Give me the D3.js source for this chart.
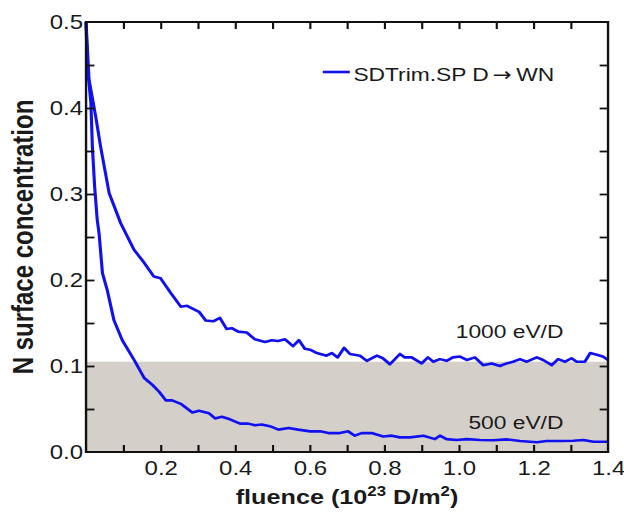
<!DOCTYPE html>
<html>
<head>
<meta charset="utf-8">
<script src="https://cdn.jsdelivr.net/npm/d3@7"></script>
<style>
  html, body { margin: 0; padding: 0; background: #fff; }
  svg { display: block; }
  text { font-family: "Liberation Sans", Arial, Helvetica, sans-serif; fill: #1a1a1a; }
</style>
</head>
<body>
<div id="chart"></div>
<script>
// --- Data ---
// [fluence (1e23 D/m^2), N surface concentration]
const series1000 = [
  [0, 0.5], [0.008, 0.433], [0.026, 0.39], [0.039, 0.355], [0.062, 0.301], [0.093, 0.266],
  [0.129, 0.235], [0.156, 0.22], [0.164, 0.215], [0.182, 0.204], [0.2, 0.202], [0.227, 0.185],
  [0.254, 0.169], [0.271, 0.17], [0.303, 0.163], [0.321, 0.153], [0.341, 0.152], [0.359, 0.156],
  [0.377, 0.143], [0.391, 0.144], [0.408, 0.14], [0.431, 0.139], [0.453, 0.131], [0.48, 0.128],
  [0.498, 0.13], [0.515, 0.129], [0.534, 0.131], [0.555, 0.123], [0.571, 0.13], [0.587, 0.12],
  [0.601, 0.119], [0.619, 0.115], [0.645, 0.112], [0.659, 0.115], [0.675, 0.11], [0.692, 0.121],
  [0.708, 0.114], [0.735, 0.112], [0.753, 0.106], [0.78, 0.112], [0.796, 0.109], [0.815, 0.102],
  [0.842, 0.114], [0.855, 0.11], [0.873, 0.11], [0.9, 0.103], [0.917, 0.11], [0.931, 0.105],
  [0.949, 0.108], [0.967, 0.106], [0.984, 0.11], [1.003, 0.111], [1.021, 0.107], [1.043, 0.11],
  [1.065, 0.101], [1.088, 0.103], [1.11, 0.1], [1.128, 0.103], [1.145, 0.105], [1.164, 0.108],
  [1.182, 0.105], [1.209, 0.11], [1.226, 0.107], [1.249, 0.101], [1.266, 0.108], [1.285, 0.105],
  [1.302, 0.109], [1.316, 0.105], [1.338, 0.105], [1.352, 0.115], [1.37, 0.113], [1.386, 0.111],
  [1.4, 0.107]
];

const series500 = [
  [0, 0.5], [0.003, 0.452], [0.013, 0.406], [0.017, 0.355], [0.023, 0.309], [0.03, 0.27],
  [0.035, 0.254], [0.044, 0.208], [0.057, 0.188], [0.075, 0.153], [0.097, 0.13], [0.129, 0.107],
  [0.156, 0.086], [0.178, 0.078], [0.196, 0.07], [0.214, 0.06], [0.231, 0.06], [0.254, 0.056],
  [0.285, 0.046], [0.303, 0.048], [0.33, 0.045], [0.346, 0.039], [0.364, 0.041], [0.386, 0.038],
  [0.413, 0.033], [0.435, 0.033], [0.453, 0.031], [0.471, 0.032], [0.493, 0.03], [0.516, 0.026],
  [0.543, 0.028], [0.569, 0.026], [0.601, 0.024], [0.628, 0.024], [0.65, 0.022], [0.681, 0.022],
  [0.703, 0.024], [0.721, 0.019], [0.739, 0.022], [0.766, 0.022], [0.797, 0.018], [0.82, 0.019],
  [0.842, 0.017], [0.869, 0.017], [0.905, 0.019], [0.936, 0.015], [0.949, 0.019], [0.967, 0.015],
  [0.994, 0.014], [1.021, 0.015], [1.057, 0.014], [1.092, 0.0136], [1.128, 0.0147], [1.164, 0.0128],
  [1.209, 0.0113], [1.235, 0.0128], [1.271, 0.0128], [1.307, 0.013], [1.334, 0.014], [1.361, 0.012],
  [1.4, 0.012]
];

const xTicksMajor = [0.2, 0.4, 0.6, 0.8, 1.0, 1.2, 1.4];
const xTicksAll = [0.1, 0.2, 0.3, 0.4, 0.5, 0.6, 0.7, 0.8, 0.9, 1.0, 1.1, 1.2, 1.3];
const yTicksMajor = [0.0, 0.1, 0.2, 0.3, 0.4, 0.5];
const yTicksAll = [0.05, 0.1, 0.15, 0.2, 0.25, 0.3, 0.35, 0.4, 0.45];
const bandRange = [0, 0.105]; // shaded region
const seriesLabels = ["1000 eV/D", "500 eV/D"];
const legendParts = ["SDTrim.SP D", "\u2192", "WN"];

// --- Layout ---
// The reference looks horizontally stretched (~1.2x), so draw in a narrower
// viewBox and let the browser stretch it to 624px.
const W = 624, H = 518, SX = 1.2;
const VW = W / SX;
const plot = { left: 71.7, right: 506.7, top: 22, bottom: 452 };
const blue = "#1010f0";

const svg = d3.select("#chart").append("svg")
  .attr("width", W).attr("height", H)
  .attr("viewBox", `0 0 ${VW} ${H}`)
  .attr("preserveAspectRatio", "none");

const x = d3.scaleLinear().domain([0, 1.4]).range([plot.left, plot.right]);
const y = d3.scaleLinear().domain([0, 0.5]).range([plot.bottom, plot.top]);

// shaded band
svg.append("rect")
  .attr("x", x(0)).attr("width", x(1.4) - x(0))
  .attr("y", y(bandRange[1])).attr("height", y(bandRange[0]) - y(bandRange[1]))
  .attr("fill", "#d4d0c9");

// curves
const line = d3.line().x((d) => x(d[0])).y((d) => y(d[1]));
[series1000, series500].forEach((s) => {
  svg.append("path").datum(s)
    .attr("d", line)
    .attr("fill", "none")
    .attr("stroke", blue)
    .attr("stroke-width", 2.6)
    .attr("stroke-linejoin", "round");
});

// --- Axes: inward ticks on all four sides ---
const tick = 7;
const styleAxis = (g) => {
  g.select(".domain").remove();
  g.selectAll(".tick line").attr("stroke", "#111").attr("stroke-width", 1.8);
  g.selectAll(".tick text").attr("font-size", 20).attr("fill", "#1a1a1a")
    .attr("font-family", "'Liberation Sans', Arial, sans-serif");
};

svg.append("g").attr("transform", `translate(0,${plot.bottom})`)
  .call(d3.axisBottom(x).tickValues(xTicksAll).tickSize(-tick).tickFormat(""))
  .call(styleAxis);
svg.append("g").attr("transform", `translate(0,${plot.bottom})`)
  .call(d3.axisBottom(x).tickValues(xTicksMajor).tickSize(0).tickPadding(9)
    .tickFormat(d3.format(".1f")))
  .call(styleAxis)
  .selectAll("text").attr("dy", "0.71em");

svg.append("g").attr("transform", `translate(0,${plot.top})`)
  .call(d3.axisTop(x).tickValues(xTicksAll).tickSize(-tick).tickFormat(""))
  .call(styleAxis);

svg.append("g").attr("transform", `translate(${plot.left},0)`)
  .call(d3.axisLeft(y).tickValues(yTicksAll).tickSize(-tick).tickFormat(""))
  .call(styleAxis);
svg.append("g").attr("transform", `translate(${plot.left},0)`)
  .call(d3.axisLeft(y).tickValues(yTicksMajor).tickSize(0).tickPadding(2.5)
    .tickFormat(d3.format(".1f")))
  .call(styleAxis);

svg.append("g").attr("transform", `translate(${plot.right},0)`)
  .call(d3.axisRight(y).tickValues(yTicksAll).tickSize(-tick).tickFormat(""))
  .call(styleAxis);

// frame
svg.append("rect")
  .attr("x", plot.left).attr("y", plot.top)
  .attr("width", plot.right - plot.left).attr("height", plot.bottom - plot.top)
  .attr("fill", "none").attr("stroke", "#111").attr("stroke-width", 2);

// --- Axis titles ---
const xTitle = svg.append("text")
  .attr("x", (plot.left + plot.right) / 2).attr("y", 504)
  .attr("text-anchor", "middle")
  .attr("font-size", 21).attr("font-weight", "bold");
xTitle.append("tspan").text("fluence (10");
xTitle.append("tspan").attr("dy", -8).attr("font-size", 14).text("23");
xTitle.append("tspan").attr("dy", 8).text(" D/m");
xTitle.append("tspan").attr("dy", -8).attr("font-size", 14).text("2");
xTitle.append("tspan").attr("dy", 8).text(")");

svg.append("text")
  .attr("transform", `translate(27.5,${(plot.top + plot.bottom) / 2}) rotate(-90)`)
  .attr("text-anchor", "middle")
  .attr("font-size", 24).attr("font-weight", "bold")
  .text("N surface concentration");

// --- Legend ---
svg.append("line")
  .attr("x1", 269).attr("x2", 291.5).attr("y1", 72).attr("y2", 72)
  .attr("stroke", blue).attr("stroke-width", 2.6);
const legendText = svg.append("text")
  .attr("x", 294.5).attr("y", 81)
  .attr("font-size", 19);
legendText.append("tspan").text(legendParts[0]);
legendText.append("tspan")
  .attr("font-family", "'DejaVu Sans', sans-serif").attr("font-size", 19)
  .attr("dx", 3).text(legendParts[1]);
legendText.append("tspan").attr("dx", 4).text(legendParts[2]);

// --- Series labels ---
svg.append("text").attr("x", 469.5).attr("y", 338)
  .attr("text-anchor", "end").attr("font-size", 19).text(seriesLabels[0]);
svg.append("text").attr("x", 469.5).attr("y", 429)
  .attr("text-anchor", "end").attr("font-size", 19).text(seriesLabels[1]);
</script>
</body>
</html>
